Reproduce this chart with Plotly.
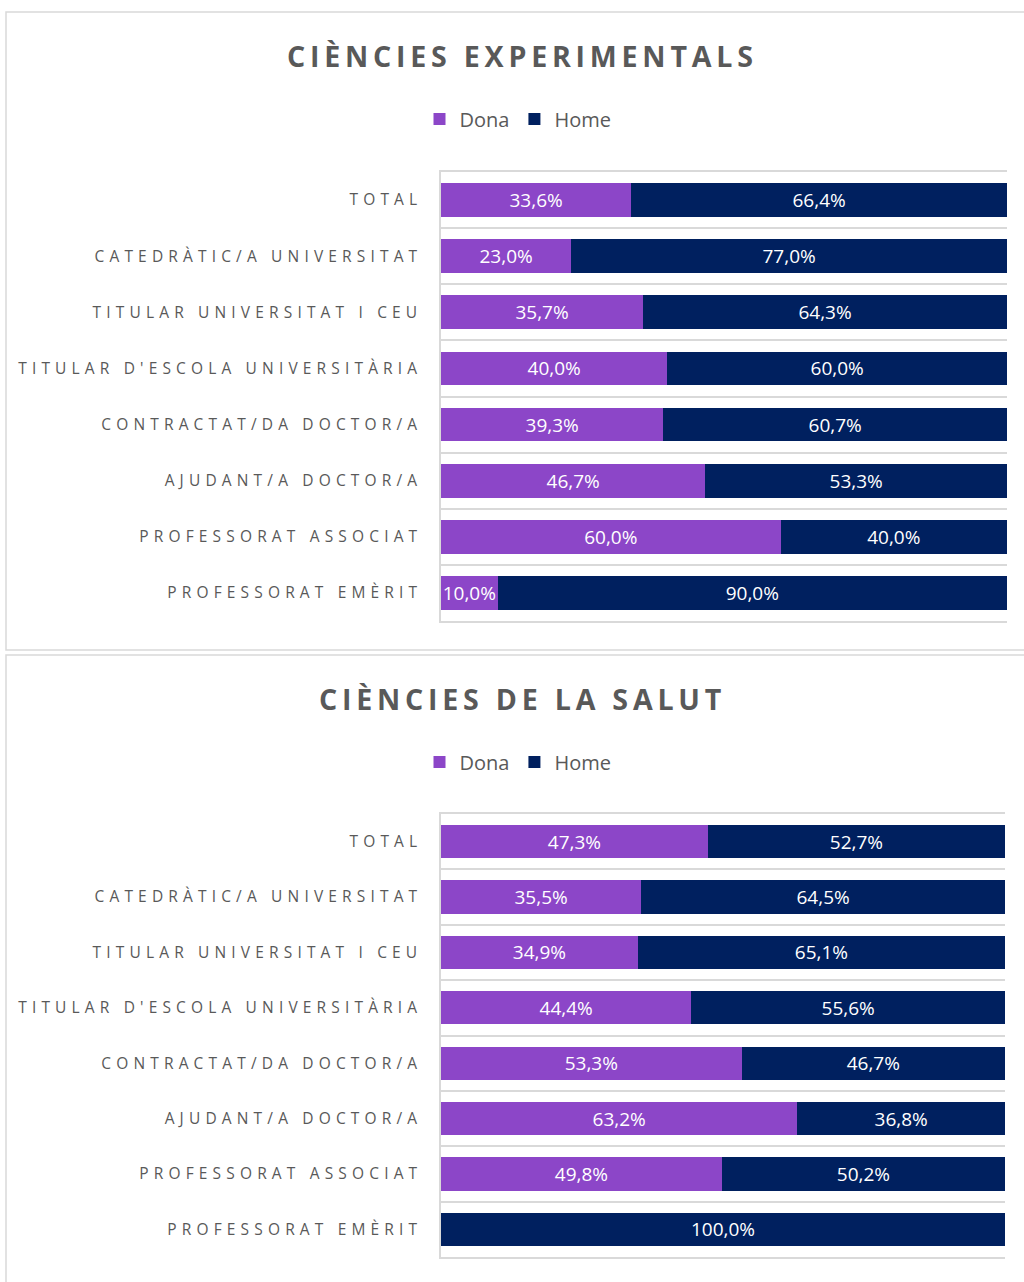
import plotly.graph_objects as go

categories = ["TOTAL", "CATEDRÀTIC/A UNIVERSITAT", "TITULAR UNIVERSITAT I CEU",
              "TITULAR D'ESCOLA UNIVERSITÀRIA", "CONTRACTAT/DA DOCTOR/A",
              "AJUDANT/A DOCTOR/A", "PROFESSORAT ASSOCIAT", "PROFESSORAT EMÈRIT"]

exp_dona = [33.6, 23.0, 35.7, 40.0, 39.3, 46.7, 60.0, 10.0]
exp_home = [66.4, 77.0, 64.3, 60.0, 60.7, 53.3, 40.0, 90.0]
sal_dona = [47.3, 35.5, 34.9, 44.4, 53.3, 63.2, 49.8, 0.0]
sal_home = [52.7, 64.5, 65.1, 55.6, 46.7, 36.8, 50.2, 100.0]

titles = ["CIÈNCIES EXPERIMENTALS", "CIÈNCIES DE LA SALUT"]

PURPLE = "#8C46C8"
NAVY = "#00205F"
GRAY = "#595959"
GRID = "#D9D9D9"
FONT = "Open Sans"
W, H = 1024, 1282


def spaced(s, sep="\u2004"):
    return sep.join(list(s))


def fmt(v):
    return "" if v == 0 else f"{v:.1f}%".replace(".", ",")


labels = [spaced(c) for c in categories]

fig = go.Figure()

panels = [
    dict(dona=exp_dona, home=exp_home, xa="x", ya="y", leg="legend"),
    dict(dona=sal_dona, home=sal_home, xa="x2", ya="y2", leg="legend2"),
]

for p in panels:
    for name, vals, col in [("Dona", p["dona"], PURPLE), ("Home", p["home"], NAVY)]:
        fig.add_trace(go.Bar(
            y=labels, x=vals, name=name, orientation="h",
            marker=dict(color=col, line=dict(width=0)),
            text=[fmt(v) for v in vals], textposition="inside",
            insidetextanchor="middle", textangle=0, constraintext="none",
            textfont=dict(color="white", size=19, family=FONT),
            xaxis=p["xa"], yaxis=p["ya"], legend=p["leg"],
            hoverinfo="skip",
        ))

yaxis_common = dict(
    type="category", categoryorder="array", categoryarray=labels,
    autorange="reversed", tickson="boundaries", showgrid=True,
    gridcolor=GRID, gridwidth=1.5, showline=True, linecolor=GRID, linewidth=1.5,
    ticks="", ticklabelstandoff=19,
    tickfont=dict(family=FONT, size=15.5, color=GRAY), zeroline=False,
)
xaxis_common = dict(range=[0, 100], visible=True, showticklabels=False, showgrid=False,
                    zeroline=False, showline=True, mirror=True, linecolor=GRID,
                    linewidth=1.5, ticks="", fixedrange=True)


def py(px):
    return 1 - px / H


fig.update_layout(
    width=W, height=H, margin=dict(l=0, r=0, t=0, b=0),
    paper_bgcolor="white", plot_bgcolor="white",
    barmode="stack", bargap=0.4, showlegend=True,
    font=dict(family=FONT, color=GRAY),
    xaxis=dict(domain=[441 / W, 1007 / W], anchor="y", **xaxis_common),
    yaxis=dict(domain=[py(621), py(172)], anchor="x", **yaxis_common),
    xaxis2=dict(domain=[441 / W, 1005 / W], anchor="y2", **xaxis_common),
    yaxis2=dict(domain=[py(1257), py(814)], anchor="x2", **yaxis_common),
    legend=dict(orientation="h", x=518 / W, xanchor="center", y=py(119), yanchor="middle",
                font=dict(size=20, color=GRAY, family=FONT), traceorder="normal",
                itemwidth=30, bgcolor="rgba(0,0,0,0)"),
    legend2=dict(orientation="h", x=518 / W, xanchor="center", y=py(762), yanchor="middle",
                 font=dict(size=20, color=GRAY, family=FONT), traceorder="normal",
                 itemwidth=30, bgcolor="rgba(0,0,0,0)"),
    uniformtext=dict(minsize=19, mode="show"),
)

for t, yc in zip(titles, [55, 698]):
    fig.add_annotation(text=f"<b>{spaced(t, chr(0x2006))}</b>", xref="paper", yref="paper",
                       x=520 / W, y=py(yc), xanchor="center", yanchor="middle",
                       showarrow=False, font=dict(family=FONT, size=28.6, color=GRAY))

# panel frames
fig.add_shape(type="rect", xref="paper", yref="paper", x0=6 / W, x1=1.02,
              y0=py(650), y1=py(12), line=dict(color=GRID, width=1.5), layer="below")
fig.add_shape(type="rect", xref="paper", yref="paper", x0=6 / W, x1=1.02,
              y0=-0.02, y1=py(655), line=dict(color=GRID, width=1.5), layer="below")

fig.write_html("out.html", config={"displayModeBar": False},
               post_script="document.body.style.margin='0';")
